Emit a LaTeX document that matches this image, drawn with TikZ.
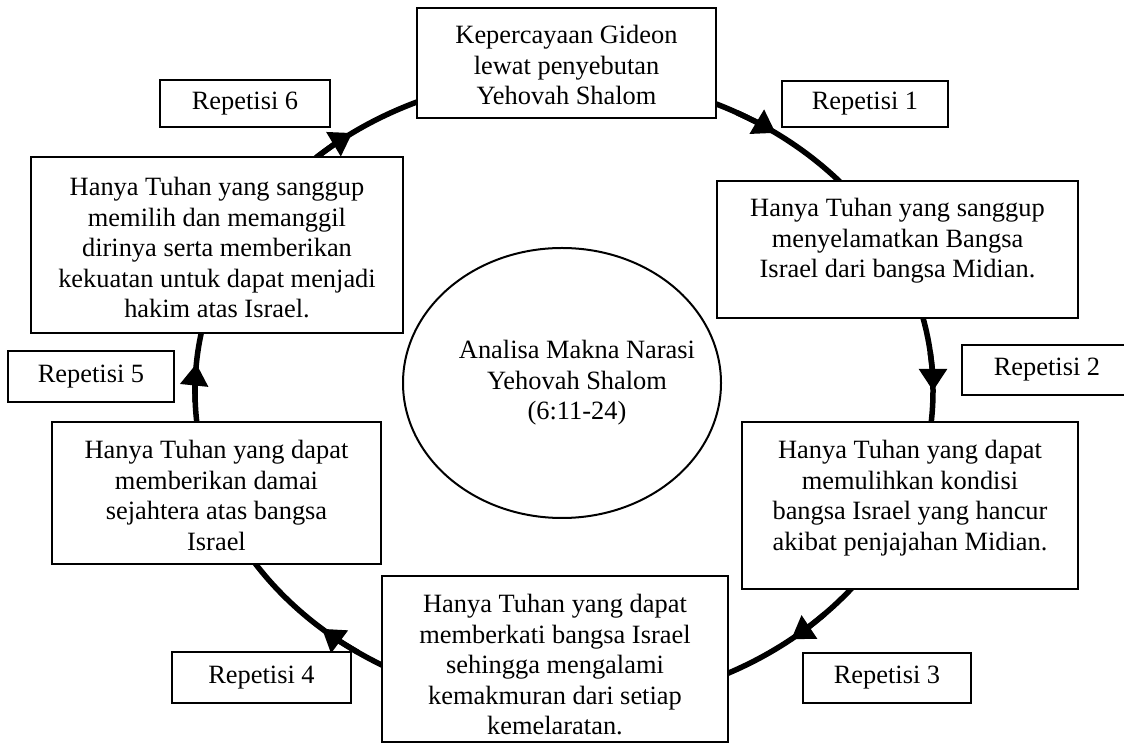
\documentclass[tikz,border=0pt]{standalone}
\usepackage{fontspec}
\setmainfont{Liberation Serif}
\usetikzlibrary{arrows.meta,shapes.geometric}
\newcommand{\mytbox}[4]{\parbox[c][#2][t]{#1}{\centering\rule{0pt}{#3}#4}}
\begin{document}
\begin{tikzpicture}[x=1pt,y=1pt,
  ringline/.style={line width=5.5pt, black},
  txt/.style={draw, line width=1.3pt, fill=white, inner sep=0pt, font=\fontsize{26.4}{30.4}\selectfont},
  repbox/.style={txt},
  arrowtip/.style={-{Triangle[length=22pt,width=27pt]}}]
\useasboundingbox (0,0) rectangle (1124,744);
% ring (cycle)
\coordinate (O) at (564,353);
\draw[ringline] (O) ellipse [x radius=369pt, y radius=315pt];
\foreach \a in {55,0,-52,-131,175,125}{
  \draw[ringline, arrowtip] ([shift={(\a+7:369pt and 315pt)}]O) arc[start angle=\a+7, end angle=\a, x radius=369pt, y radius=315pt];
}
% centre ellipse
\node[draw, ellipse, line width=2pt, fill=white, inner sep=0pt, minimum width=318pt, minimum height=270pt, font=\fontsize{26.4}{30.4}\selectfont] (c) at (562,361)
  {\makebox[0pt]{\hspace{30pt}\raisebox{5pt}{\parbox{300pt}{\centering Analisa Makna Narasi\\Yehovah Shalom\\(6:11-24)}}}};
% text boxes
\node[txt] (b0) at (566.5,681) {\mytbox{299pt}{110pt}{36pt}{Kepercayaan Gideon\\lewat penyebutan\\Yehovah Shalom}};
\node[txt] (b1) at (897.5,494.5) {\mytbox{361pt}{137pt}{36pt}{Hanya Tuhan yang sanggup\\menyelamatkan Bangsa\\Israel dari bangsa Midian.}};
\node[txt] (b2) at (910,238.5) {\mytbox{336pt}{167pt}{37pt}{Hanya Tuhan yang dapat\\memulihkan kondisi\\bangsa Israel yang hancur\\akibat penjajahan Midian.}};
\node[txt] (b3) at (555,85) {\mytbox{346pt}{166pt}{37pt}{Hanya Tuhan yang dapat\\memberkati bangsa Israel\\sehingga mengalami\\kemakmuran dari setiap\\kemelaratan.}};
\node[txt] (b4) at (216.5,251) {\mytbox{329pt}{142pt}{37pt}{Hanya Tuhan yang dapat\\memberikan damai\\sejahtera atas bangsa\\Israel}};
\node[txt] (b5) at (217,499) {\mytbox{372pt}{176pt}{39pt}{Hanya Tuhan yang sanggup\\memilih dan memanggil\\dirinya serta memberikan\\kekuatan untuk dapat menjadi\\hakim atas Israel.}};
% repetition labels
\node[repbox, minimum width=166pt, minimum height=46pt] (r1) at (865,640) {Repetisi 1};
\node[repbox, minimum width=170pt, minimum height=50pt] (r2) at (1047,374) {Repetisi 2};
\node[repbox, minimum width=168pt, minimum height=50pt] (r3) at (887,66) {Repetisi 3};
\node[repbox, minimum width=179pt, minimum height=51pt] (r4) at (261.5,66.5) {Repetisi 4};
\node[repbox, minimum width=166pt, minimum height=51pt] (r5) at (91,367.5) {Repetisi 5};
\node[repbox, minimum width=170pt, minimum height=47pt] (r6) at (245,640.5) {Repetisi 6};
\end{tikzpicture}
\end{document}
